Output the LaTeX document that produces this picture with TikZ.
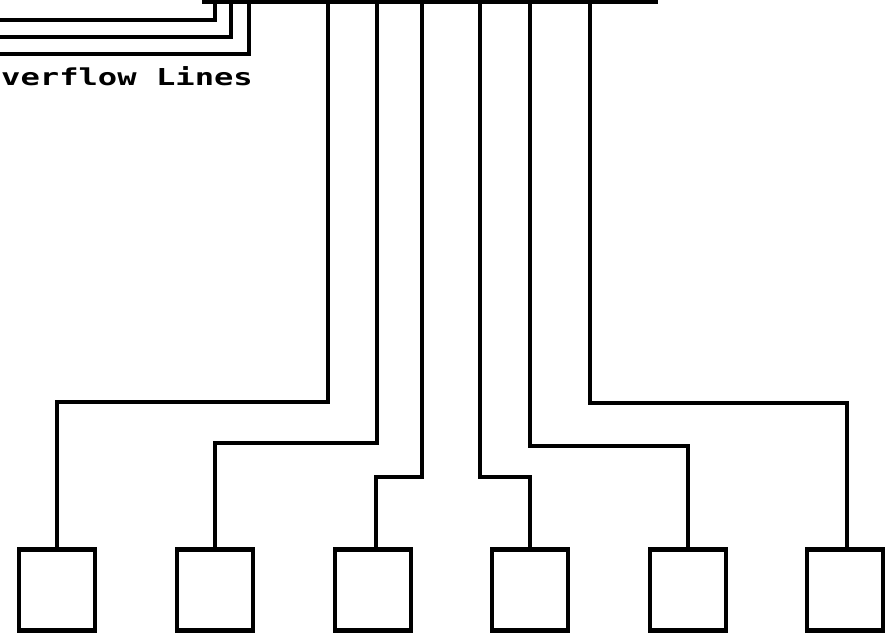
\documentclass[tikz,border=0pt]{standalone}
\usepackage{fontspec}
\newfontfamily\dotfont{DejaVu Sans Mono}
\begin{document}
\begin{tikzpicture}[x=1pt,y=-1pt,
  wire/.style={line width=4.5pt, line cap=rect, line join=miter},
  stationbox/.style={draw, line width=4.5pt, minimum width=76pt, minimum height=81pt, inner sep=0pt},
  labeltext/.style={anchor=base west, inner sep=0pt, font=\dotfont\bfseries\fontsize{23.3}{28}\selectfont}]
\useasboundingbox (0,0) rectangle (890,643);
% bus bar
\coordinate (busL) at (204,2);
\coordinate (busR) at (656,2);
\draw[wire] (busL) -- (busR);
% overflow lines
\coordinate (o1) at (-4,20);
\coordinate (o2) at (-4,37);
\coordinate (o3) at (-4,54);
\coordinate (u1) at (215,2);
\coordinate (u2) at (231,2);
\coordinate (u3) at (249,2);
\draw[wire] (o1) -| (u1);
\draw[wire] (o2) -| (u2);
\draw[wire] (o3) -| (u3);
\node[labeltext] (lbl) at (1,85) {\scalebox{1.38}[1]{verflow Lines}};
% stations
\node[stationbox] (b1) at (57,590) {};
\node[stationbox] (b2) at (215,590) {};
\node[stationbox] (b3) at (373,590) {};
\node[stationbox] (b4) at (530,590) {};
\node[stationbox] (b5) at (688,590) {};
\node[stationbox] (b6) at (845,590) {};
% taps on bus
\coordinate (t1) at (328,2);
\coordinate (t2) at (377,2);
\coordinate (t3) at (422,2);
\coordinate (t4) at (480,2);
\coordinate (t5) at (530,2);
\coordinate (t6) at (590,2);
% bends
\coordinate (k1) at (328,402);
\coordinate (k2) at (377,443);
\coordinate (k3) at (422,477);
\coordinate (k4) at (480,477);
\coordinate (k5) at (530,446);
\coordinate (k6) at (590,403);
\draw[wire] (t1) -- (k1) -| (b1.north);
\draw[wire] (t2) -- (k2) -| (b2.north);
\draw[wire] (t3) -- (k3) -| ([xshift=3pt]b3.north);
\draw[wire] (t4) -- (k4) -| (b4.north);
\draw[wire] (t5) -- (k5) -| (b5.north);
\draw[wire] (t6) -- (k6) -| ([xshift=2pt]b6.north);
\end{tikzpicture}
\end{document}
